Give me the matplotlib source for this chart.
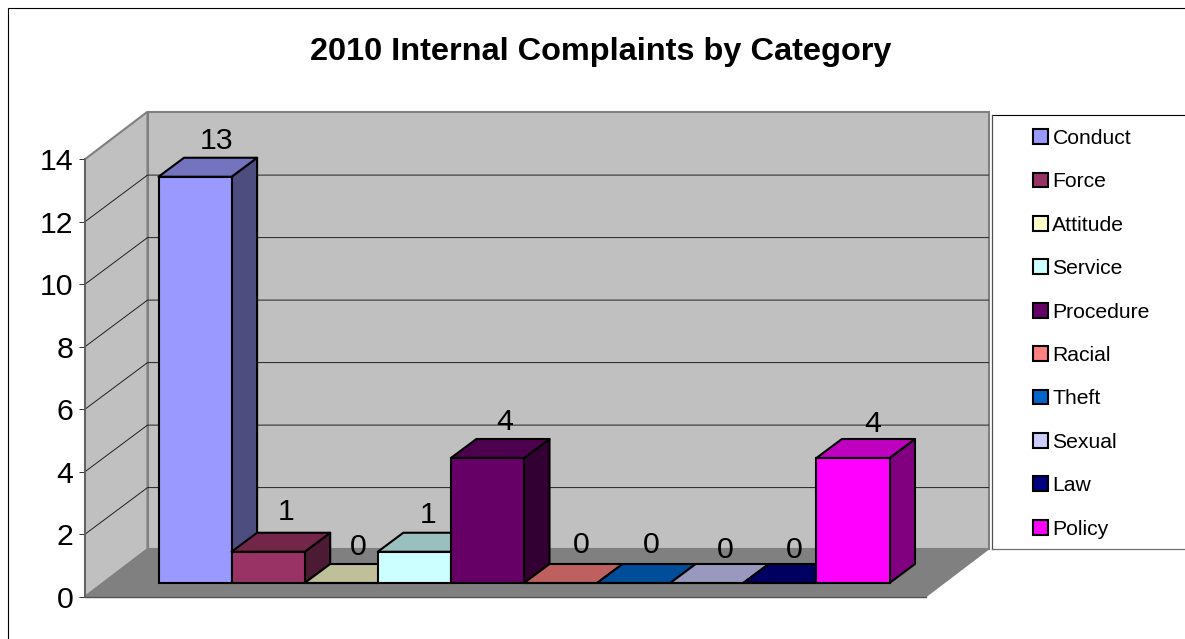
import matplotlib
matplotlib.use("Agg")
import matplotlib.pyplot as plt
from matplotlib.lines import Line2D
from matplotlib.patches import Patch, Polygon, Rectangle

plt.rcParams['font.family'] = ['Liberation Sans', 'DejaVu Sans']

TITLE = "2010 Internal Complaints by Category"
CATEGORIES = ["Conduct", "Force", "Attitude", "Service", "Procedure",
              "Racial", "Theft", "Sexual", "Law", "Policy"]
VALUES = [13, 1, 0, 1, 4, 0, 0, 0, 0, 4]
COLORS = ["#9999FF", "#993366", "#FFFFCC", "#CCFFFF", "#660066",
          "#FF8080", "#0066CC", "#CCCCFF", "#000080", "#FF00FF"]
TOPS = ["#7373BF", "#732649", "#BFBF99", "#99BFBF", "#4D004D",
        "#BF6060", "#004D99", "#9999BF", "#000060", "#BF00BF"]
SIDES = ["#4D4D80", "#4D1A33", "#808066", "#668080", "#330033",
         "#804040", "#003366", "#666680", "#000040", "#800080"]
YTICKS = [0, 2, 4, 6, 8, 10, 12, 14]

W, H = 1185, 639
fig = plt.figure(figsize=(W / 100, H / 100), dpi=100, facecolor="white")

# outer frame and legend box
fig.add_artist(Rectangle((7.6 / W, -0.1), 1.2, 0.1 + (H - 7.6) / H,
                         transform=fig.transFigure, fc="white", ec="black", lw=0.8, zorder=-2))
fig.add_artist(Rectangle((991.5 / W, (H - 549) / H), 0.3, (549 - 114.5) / H,
                         transform=fig.transFigure, fc="white", ec="none", zorder=-1))
fig.add_artist(Line2D([991.5 / W, 1.0], [(H - 114.5) / H] * 2, color="black", lw=0.8, zorder=-1))
fig.add_artist(Line2D([991.5 / W] * 2, [(H - 114.5) / H, (H - 549) / H], color="#505050", lw=0.9, zorder=-1))
fig.add_artist(Line2D([991.5 / W, 1.0], [(H - 549) / H] * 2, color="#707070", lw=0.9, zorder=-1))

L, R, T, B = 85.0, 926.0, 159.2, 596.7
ax = fig.add_axes([L / W, (H - B) / H, (R - L) / W, (B - T) / H])
UNIT_X = 73.1
X0 = 140.6
ax.set_xlim((L - X0) / UNIT_X, (R - X0) / UNIT_X)
ax.set_ylim(0, 14)
ax.patch.set_visible(False)
UNIT_Y = (B - T) / 14
WALL_DX, WALL_DY = 62.5, 47.5
GRID_DY = 46.6


def at(x, y, dx=0.0, dy=0.0):
    """Data position shifted by a pixel depth offset."""
    return (x + dx / UNIT_X, y + dy / UNIT_Y)


xl, xr = ax.get_xlim()
GRAY = "#808080"
# walls and floor
ax.add_patch(Polygon([at(xl, 0), at(xl, 14), at(xl, 14, WALL_DX, WALL_DY), at(xl, 0, WALL_DX, WALL_DY)],
                     fc="#C0C0C0", ec=GRAY, lw=1.5, clip_on=False, zorder=1))
ax.add_patch(Polygon([at(xl, 0, WALL_DX, WALL_DY), at(xl, 14, WALL_DX, WALL_DY),
                      at(xr, 14, WALL_DX, WALL_DY), at(xr, 0, WALL_DX, WALL_DY)],
                     fc="#C0C0C0", ec=GRAY, lw=1.5, clip_on=False, zorder=1))
ax.add_patch(Polygon([at(xl, 0), at(xr, 0), at(xr, 0, WALL_DX, WALL_DY), at(xl, 0, WALL_DX, WALL_DY)],
                     fc=GRAY, ec=GRAY, lw=0.8, clip_on=False, zorder=1.2))
# gridlines
for v in YTICKS[1:-1]:
    p0, p1, p2 = at(xl, v), at(xl, v, WALL_DX, GRID_DY), at(xr, v, WALL_DX, GRID_DY)
    ax.plot([p0[0], p1[0], p2[0]], [p0[1], p1[1], p2[1]], color="#202020", lw=0.7,
            clip_on=False, zorder=1.5)

# bars
FRONT_DX, FRONT_DY = 17.9, 13.7
BAR_DX, BAR_DY = 25.5, 19.0
EDGE = 1.5
# small per-label pixel nudges (right, down) seen in the reference
NUDGE_X = [3, 0, -1, -5, -1, 2, -1, 0, -4, 1]
NUDGE_DOWN = [2, -2, 2, 1, 2, 0, 0, 5, 5, 4]
for i, (v, c, t, s) in enumerate(zip(VALUES, COLORS, TOPS, SIDES)):
    z = 3 + i * 0.1
    x0, y0 = at(i, 0, FRONT_DX, FRONT_DY)
    ax.bar(x0, v, width=1.0, bottom=y0, align="edge", color=c, edgecolor="black",
           linewidth=EDGE, clip_on=False, zorder=z + 0.02)
    a = at(i, v, FRONT_DX, FRONT_DY)
    b = at(i + 1, v, FRONT_DX, FRONT_DY)
    ax.add_patch(Polygon([a, b, at(i + 1, v, FRONT_DX + BAR_DX, FRONT_DY + BAR_DY),
                          at(i, v, FRONT_DX + BAR_DX, FRONT_DY + BAR_DY)],
                         fc=t, ec="black", lw=EDGE, joinstyle="round", clip_on=False, zorder=z + 0.01))
    if v > 0:
        ax.add_patch(Polygon([at(i + 1, 0, FRONT_DX, FRONT_DY), b,
                              at(i + 1, v, FRONT_DX + BAR_DX, FRONT_DY + BAR_DY),
                              at(i + 1, 0, FRONT_DX + BAR_DX, FRONT_DY + BAR_DY)],
                             fc=s, ec="black", lw=EDGE, joinstyle="round", clip_on=False, zorder=z))
    ax.annotate(str(v), xy=at(i + 0.5, v, FRONT_DX, FRONT_DY),
                xytext=(13.2 + NUDGE_X[i] * 0.72, 27.4 - NUDGE_DOWN[i] * 0.72),
                textcoords="offset points", ha="center", va="center", fontsize=21.8,
                color="black", zorder=10, annotation_clip=False)

# axes furniture
for name in ("top", "right"):
    ax.spines[name].set_visible(False)
ax.spines["left"].set_color("#606060")
ax.spines["left"].set_linewidth(1.3)
ax.spines["bottom"].set_color("#505050")
ax.spines["bottom"].set_linewidth(1.0)
for sp in ax.spines.values():
    sp.set_zorder(2)
ax.set_xticks([])
ax.set_yticks(YTICKS)
ax.tick_params(axis="y", length=4.5, width=0.7, color="#303030", pad=4, labelsize=21.8)

fig.text(601 / W, (H - 52) / H, TITLE, ha="center", va="center", fontsize=23.4, fontweight="bold")

handles = [Patch(facecolor=c, edgecolor="black", linewidth=1.5) for c in COLORS]
fig.legend(handles, CATEGORIES, loc="upper left", bbox_to_anchor=(1033 / W, (H - 129) / H),
           frameon=False, fontsize=15.2, borderpad=0, borderaxespad=0, labelspacing=1.156,
           handlelength=0.7, handleheight=0.7, handletextpad=0.22, labelcolor="black")

fig.savefig("out.png", dpi=100)
